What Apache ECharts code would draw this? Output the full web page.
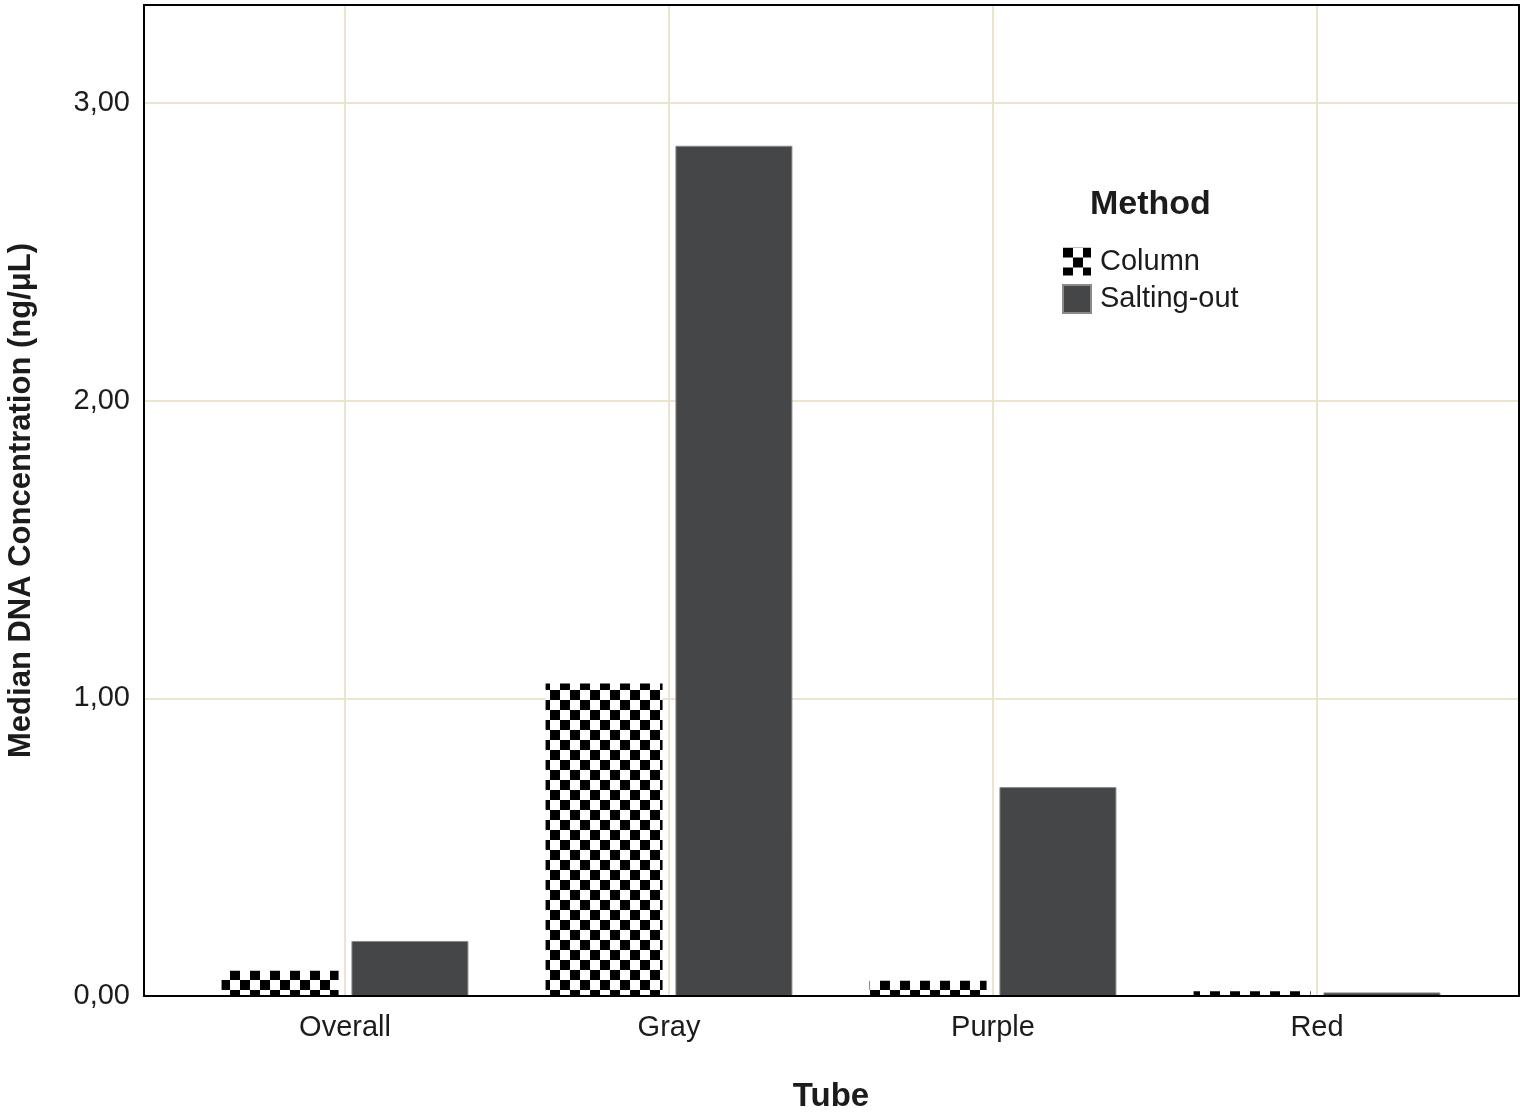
<!DOCTYPE html>
<html>
<head>
<meta charset="utf-8">
<script src="https://cdn.jsdelivr.net/npm/echarts@6/dist/echarts.min.js"></script>
<style>
html,body{margin:0;padding:0;background:#fff;}
#c{width:1524px;height:1112px;}
</style>
</head>
<body>
<div id="c"></div>
<script>
var categories = ['Overall', 'Gray', 'Purple', 'Red'];
var columnValues = [0.085, 1.05, 0.051, 0.016];
var saltingValues = [0.185, 2.857, 0.702, 0.012];
var yTicks = [0, 1, 2, 3];
var seriesNames = ['Column', 'Salting-out'];

var FONT = 'Liberation Sans, Arial, sans-serif';
var GRID_COLOR = '#ebe5cf';
var TEXT = '#1c1c1c';

function makeChecker(cell) {
  var cv = document.createElement('canvas');
  cv.width = cell * 2; cv.height = cell * 2;
  var ctx = cv.getContext('2d');
  ctx.fillStyle = '#ffffff';
  ctx.fillRect(0, 0, cell * 2, cell * 2);
  ctx.fillStyle = '#000000';
  ctx.fillRect(0, 0, cell, cell);
  ctx.fillRect(cell, cell, cell, cell);
  return cv;
}
var checker = makeChecker(10);

var chart = echarts.init(document.getElementById('c'), null, {renderer: 'canvas'});
var fmt = function (v) {
  if (yTicks.indexOf(v) < 0) return '';
  return v.toFixed(2).replace('.', ',');
};
var frameLine = {show: true, onZero: false, lineStyle: {color: '#000', width: 2}};

chart.setOption({
  animation: false,
  backgroundColor: '#ffffff',
  grid: [
    {left: 183, right: 45, top: 5, bottom: 116, show: false, containLabel: false, outerBoundsMode: 'none'},
    {left: 144, right: 5, top: 5, bottom: 116, show: false, containLabel: false, outerBoundsMode: 'none'}
  ],
  xAxis: [
    {
      type: 'category', gridIndex: 0, data: categories,
      axisLine: {show: false}, axisTick: {show: false}, splitLine: {show: false},
      axisLabel: {fontFamily: FONT, fontSize: 29, color: TEXT, margin: 17},
      name: 'Tube', nameLocation: 'middle', nameGap: 84,
      nameTextStyle: {fontFamily: FONT, fontSize: 33, fontWeight: 'bold', color: TEXT}
    },
    {
      type: 'value', gridIndex: 1, min: 0, max: 1, position: 'bottom', z: 5,
      axisLine: frameLine, axisTick: {show: false}, axisLabel: {show: false}, splitLine: {show: false}
    },
    {
      type: 'value', gridIndex: 1, min: 0, max: 1, position: 'top', z: 5,
      axisLine: frameLine, axisTick: {show: false}, axisLabel: {show: false}, splitLine: {show: false}
    }
  ],
  yAxis: [
    {
      type: 'value', gridIndex: 0, min: 0, max: 3.33, interval: 1, show: false
    },
    {
      type: 'value', gridIndex: 1, min: 0, max: 3.33, interval: 1, position: 'left',
      axisLine: frameLine,
      axisTick: {show: false},
      splitLine: {show: true, lineStyle: {color: GRID_COLOR, width: 2}},
      axisLabel: {fontFamily: FONT, fontSize: 29, color: TEXT, margin: 14, formatter: fmt, showMaxLabel: false},
      name: 'Median DNA Concentration (ng/\u03bcL)', nameLocation: 'middle', nameGap: 107,
      nameTextStyle: {fontFamily: FONT, fontSize: 31, fontWeight: 'bold', color: TEXT}
    },
    {
      type: 'value', gridIndex: 1, min: 0, max: 3.33, position: 'right', z: 5,
      axisLine: frameLine, axisTick: {show: false}, axisLabel: {show: false}, splitLine: {show: false}
    }
  ],
  legend: {
    orient: 'vertical', left: 1062, top: 247, itemWidth: 28, itemHeight: 28, itemGap: 8, padding: 0,
    icon: 'rect', data: seriesNames,
    textStyle: {fontFamily: FONT, fontSize: 29, color: TEXT, padding: [0, 0, 0, 4]}
  },
  graphic: [
    {type: 'text', left: 1090, top: 188, style: {text: 'Method', font: 'bold 34px ' + FONT, fill: TEXT}}
  ],
  series: [
    {
      type: 'line', xAxisIndex: 0, yAxisIndex: 0, data: [], silent: true, z: 1,
      markLine: {
        silent: true, symbol: 'none', label: {show: false},
        lineStyle: {color: GRID_COLOR, width: 2, type: 'solid'},
        data: categories.map(function (c) { return {xAxis: c}; })
      }
    },
    {
      name: seriesNames[0], type: 'bar', xAxisIndex: 0, yAxisIndex: 0,
      data: columnValues, barWidth: 117, barGap: '11%',
      itemStyle: {color: {image: checker, repeat: 'repeat'}, borderWidth: 0}
    },
    {
      name: seriesNames[1], type: 'bar', xAxisIndex: 0, yAxisIndex: 0,
      data: saltingValues, barWidth: 117, barGap: '11%',
      itemStyle: {color: '#454648', borderColor: '#8a8a8a', borderWidth: 1}
    }
  ]
});
</script>
</body>
</html>
